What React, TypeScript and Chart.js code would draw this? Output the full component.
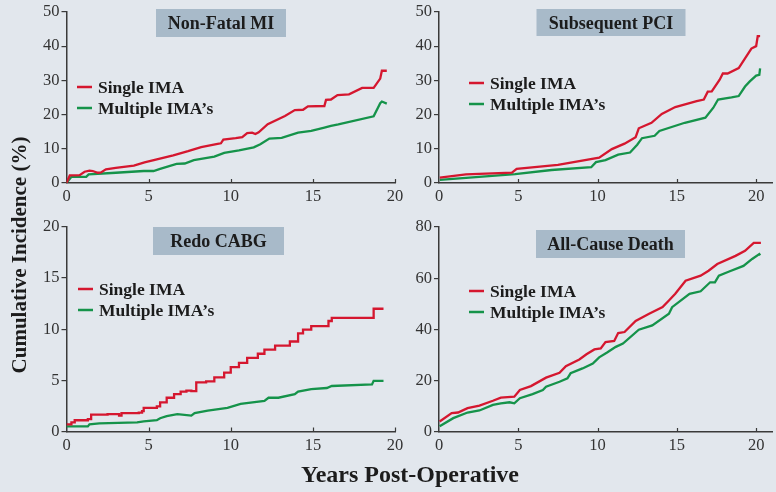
import React, { useEffect, useRef } from "react";
import { Chart, registerables } from "chart.js";

Chart.register(...registerables);

const FONT = "'Liberation Serif', 'DejaVu Serif', serif";

// ---------- Data ----------
const seriesLabels = ["Single IMA", "Multiple IMA\u2019s"];
const panelTitles = ["Non-Fatal MI", "Subsequent PCI", "Redo CABG", "All-Cause Death"];
const xTickValues = [0, 5, 10, 15, 20];

// Non-Fatal MI
const miSingleYears = [0, 0.2, 0.8, 1.1, 1.4, 1.6, 1.9, 2.1, 2.4, 3.0, 4.1, 4.75, 5.5, 6.5, 7.4, 8.2, 9.2, 9.4, 9.55, 10.3, 10.7, 11.0, 11.3, 11.5, 11.7, 12.25, 13.3, 13.9, 14.4, 14.7, 15.7, 15.8, 16.1, 16.5, 17.2, 18.0, 18.7, 19.1, 19.2, 19.5];
const miSingle = [0, 2.2, 2.3, 3.3, 3.6, 3.5, 3.0, 3.1, 4.0, 4.4, 5.1, 6.0, 6.9, 8.1, 9.3, 10.5, 11.4, 11.6, 12.7, 13.1, 13.4, 14.6, 14.7, 14.3, 14.8, 17.2, 19.6, 21.3, 21.4, 22.4, 22.5, 24.3, 24.4, 25.7, 25.9, 27.8, 27.8, 30.5, 32.8, 32.8];
const miMultipleYears = [0, 0.3, 1.2, 1.35, 3.0, 4.7, 5.3, 5.7, 6.7, 7.2, 7.75, 9.0, 9.6, 10.5, 11.4, 11.8, 12.35, 13.1, 14.1, 14.9, 15.7, 16.1, 16.55, 18.7, 19.1, 19.2, 19.5];
const miMultiple = [0, 1.8, 1.8, 2.5, 3.0, 3.5, 3.5, 4.1, 5.6, 5.7, 6.7, 7.7, 8.8, 9.5, 10.4, 11.3, 13.0, 13.2, 14.7, 15.2, 16.2, 16.7, 17.1, 19.5, 23.3, 23.8, 23.2];

// Subsequent PCI
const pciSingleYears = [0.05, 1.7, 4.6, 4.9, 7.5, 10.1, 10.9, 11.7, 12.4, 12.6, 13.4, 14.05, 14.9, 16.25, 16.7, 16.95, 17.2, 17.7, 17.9, 18.2, 18.9, 19.3, 19.7, 20.0, 20.1, 20.25];
const pciSingle = [1.6, 2.5, 3.0, 4.1, 5.3, 7.4, 9.9, 11.5, 13.4, 16.0, 17.6, 20.2, 22.2, 23.9, 24.4, 26.7, 26.8, 30.2, 32.0, 32.0, 33.6, 36.4, 39.3, 40.0, 42.9, 42.9];
const pciMultipleYears = [0.05, 4.8, 7.1, 9.6, 9.9, 10.5, 11.3, 12.05, 12.5, 12.8, 13.6, 13.9, 15.5, 16.8, 17.3, 17.6, 18.45, 18.9, 19.3, 19.6, 20.0, 20.2, 20.25];
const pciMultiple = [0.9, 2.6, 3.8, 4.6, 6.1, 6.7, 8.3, 8.9, 11.2, 13.1, 13.8, 15.2, 17.6, 19.1, 22.0, 24.4, 25.0, 25.4, 28.2, 29.7, 31.4, 31.6, 33.5];

// Redo CABG
const redoSingleYears = [0, 0.3, 0.5, 1.3, 1.5, 2.5, 3.2, 3.35, 4.4, 4.6, 4.7, 5.5, 5.7, 6.1, 6.55, 6.95, 7.3, 7.6, 7.9, 8.5, 9.0, 9.6, 10.0, 10.5, 11.0, 11.65, 12.05, 12.7, 13.6, 14.1, 14.4, 14.9, 15.95, 16.15, 18.7, 19.3];
const redoSingle = [0.7, 0.9, 1.1, 1.2, 1.65, 1.7, 1.55, 1.8, 1.85, 2.0, 2.3, 2.45, 2.85, 3.3, 3.65, 3.9, 4.0, 3.95, 4.8, 4.9, 5.3, 5.75, 6.3, 6.7, 7.2, 7.6, 8.0, 8.4, 8.8, 9.6, 9.95, 10.3, 10.8, 11.1, 12.0, 12.0];
const redoMultipleYears = [0, 1.3, 1.4, 2.0, 4.3, 4.7, 5.5, 5.7, 6.1, 6.75, 7.6, 7.8, 8.6, 9.8, 10.6, 12.05, 12.3, 12.9, 13.9, 14.1, 14.9, 15.85, 16.15, 18.6, 18.7, 19.3];
const redoMultiple = [0.5, 0.5, 0.7, 0.8, 0.9, 1.0, 1.1, 1.3, 1.5, 1.7, 1.55, 1.8, 2.05, 2.3, 2.7, 3.0, 3.3, 3.3, 3.65, 3.9, 4.15, 4.25, 4.45, 4.6, 4.95, 4.95];

// All-Cause Death
const deathSingleYears = [0.04, 0.8, 1.2, 1.8, 2.55, 3.4, 3.9, 4.75, 5.1, 5.8, 6.75, 7.6, 8.0, 8.85, 9.3, 9.8, 10.2, 10.5, 11.05, 11.3, 11.7, 12.4, 13.25, 14.1, 14.5, 14.9, 15.55, 16.5, 17.0, 17.55, 18.7, 19.3, 19.85, 20.3];
const deathSingle = [4.1, 7.4, 7.6, 9.3, 10.3, 12.2, 13.4, 13.8, 16.4, 17.9, 21.2, 23.1, 25.7, 28.3, 30.3, 32.2, 32.6, 35.1, 35.5, 38.6, 39.0, 43.3, 46.1, 48.7, 51.3, 53.9, 59.0, 61.0, 62.9, 65.5, 68.7, 70.7, 73.8, 73.8];
const deathMultipleYears = [0.04, 0.9, 1.8, 2.55, 3.4, 3.9, 4.45, 4.75, 5.1, 5.9, 6.55, 6.75, 7.6, 8.1, 8.3, 9.05, 9.7, 10.1, 10.6, 11.15, 11.6, 12.6, 13.45, 14.5, 14.7, 15.8, 16.5, 17.1, 17.4, 17.65, 18.3, 19.2, 19.75, 20.2, 20.25];
const deathMultiple = [2.2, 5.4, 7.6, 8.4, 10.6, 11.2, 11.6, 11.2, 13.2, 14.8, 16.4, 17.7, 19.6, 20.9, 22.9, 24.8, 26.7, 29.1, 31.0, 33.2, 34.5, 39.9, 41.6, 46.1, 48.7, 53.9, 54.9, 58.4, 58.4, 61.0, 62.6, 64.8, 67.5, 69.4, 68.9];

// ---------- Styles ----------
const RED = "#d5172f";
const GREEN = "#15934a";
const BG = "#e2e7ed";
const BOX = "#a8bac9";
const AXIS = "#3a3a3a";
const TEXT = "#1c1c1c";

type Panel = {
  title: string;
  canvas: { left: number; top: number; w: number; h: number };
  area: { l: number; t: number; r: number; b: number };
  xMax: number;
  yMax: number;
  yStep: number;
  box: { x: number; y: number; w: number; h: number };
  legend: { x: number; y: number };
  series: { xs: number[]; ys: number[]; stepped: boolean }[];
};

const PANELS: Panel[] = [
  {
    title: panelTitles[0],
    canvas: { left: 0, top: 0, w: 420, h: 215 },
    area: { l: 66.5, t: 10, r: 395, b: 183 },
    xMax: 20, yMax: 50, yStep: 10,
    box: { x: 156, y: 9, w: 130, h: 28 },
    legend: { x: 77, y: 87 },
    series: [
      { xs: miSingleYears, ys: miSingle, stepped: false },
      { xs: miMultipleYears, ys: miMultiple, stepped: false },
    ],
  },
  {
    title: panelTitles[1],
    canvas: { left: 390, top: 0, w: 386, h: 215 },
    area: { l: 439, t: 10, r: 772, b: 183 },
    xMax: 21, yMax: 50, yStep: 10,
    box: { x: 146.5, y: 9, w: 149, h: 27 },
    legend: { x: 79, y: 83 },
    series: [
      { xs: pciSingleYears, ys: pciSingle, stepped: false },
      { xs: pciMultipleYears, ys: pciMultiple, stepped: false },
    ],
  },
  {
    title: panelTitles[2],
    canvas: { left: 0, top: 215, w: 420, h: 250 },
    area: { l: 66.5, t: 225, r: 395, b: 431.5 },
    xMax: 20, yMax: 20, yStep: 5,
    box: { x: 153, y: 12, w: 131, h: 28 },
    legend: { x: 78, y: 74 },
    series: [
      { xs: redoSingleYears, ys: redoSingle, stepped: true },
      { xs: redoMultipleYears, ys: redoMultiple, stepped: false },
    ],
  },
  {
    title: panelTitles[3],
    canvas: { left: 390, top: 215, w: 386, h: 250 },
    area: { l: 439, t: 226, r: 772, b: 432 },
    xMax: 21, yMax: 80, yStep: 20,
    box: { x: 146, y: 15, w: 149, h: 28 },
    legend: { x: 79, y: 76 },
    series: [
      { xs: deathSingleYears, ys: deathSingle, stepped: false },
      { xs: deathMultipleYears, ys: deathMultiple, stepped: false },
    ],
  },
];

const decorPlugin = {
  id: "decor",
  afterDraw(chart: any, _args: any, opts: any) {
    const ctx = chart.ctx as CanvasRenderingContext2D;
    const xs = chart.scales.x;
    const yb = chart.chartArea.bottom;
    ctx.save();
    // inward x tick marks
    ctx.strokeStyle = AXIS;
    ctx.lineWidth = 1.2;
    for (const v of xTickValues) {
      if (v === 0) continue;
      const px = Math.round(xs.getPixelForValue(v)) + 0.5;
      ctx.beginPath();
      ctx.moveTo(px, yb);
      ctx.lineTo(px, yb - 4);
      ctx.stroke();
    }
    // title box
    const box = opts.box;
    ctx.fillStyle = BOX;
    ctx.fillRect(box.x, box.y, box.w, box.h);
    ctx.fillStyle = TEXT;
    ctx.font = `bold 18px ${FONT}`;
    ctx.textAlign = "center";
    ctx.textBaseline = "alphabetic";
    ctx.fillText(opts.title, box.x + box.w / 2, box.y + box.h / 2 + 6);
    // legend
    const lg = opts.legend;
    chart.data.datasets.forEach((ds: any, i: number) => {
      const y = lg.y + i * 21;
      ctx.strokeStyle = ds.borderColor;
      ctx.lineWidth = 2.5;
      ctx.beginPath();
      ctx.moveTo(lg.x, y);
      ctx.lineTo(lg.x + 15, y);
      ctx.stroke();
      ctx.fillStyle = TEXT;
      ctx.font = `bold 17.5px ${FONT}`;
      ctx.textAlign = "left";
      ctx.fillText(ds.label, lg.x + 21, y + 6);
    });
    ctx.restore();
  },
};

function PanelChart({ p }: { p: Panel }) {
  const ref = useRef<HTMLCanvasElement | null>(null);
  useEffect(() => {
    if (!ref.current) return;
    const colors = [RED, GREEN];
    const chart = new Chart(ref.current, {
      type: "line",
      data: {
        datasets: p.series.map((s, i) => ({
          label: seriesLabels[i],
          data: s.xs.map((x, j) => ({ x, y: s.ys[j] })),
          borderColor: colors[i],
          backgroundColor: colors[i],
          borderWidth: 2.3,
          pointRadius: 0,
          stepped: s.stepped ? "before" : false,
          tension: 0,
          fill: false,
        })) as any,
      },
      options: {
        responsive: false,
        animation: false,
        devicePixelRatio: 1,
        layout: {
          padding: {
            left: 0,
            bottom: 0,
            top: p.area.t - p.canvas.top,
            right: p.canvas.left + p.canvas.w - p.area.r,
          },
        },
        plugins: {
          legend: { display: false },
          title: { display: false },
          tooltip: { enabled: false },
          decor: { box: p.box, legend: p.legend, title: p.title },
        } as any,
        scales: {
          x: {
            type: "linear",
            min: 0,
            max: p.xMax,
            afterFit: (scale: any) => {
              scale.height = p.canvas.top + p.canvas.h - p.area.b;
            },
            afterBuildTicks: (scale: any) => {
              scale.ticks = xTickValues.map((v) => ({ value: v }));
            },
            grid: { display: false, drawTicks: false },
            border: { display: true, color: AXIS, width: 1.5 },
            ticks: {
              includeBounds: false,
              maxRotation: 0,
              autoSkip: false,
              padding: 4,
              color: "#333",
              font: { family: FONT, size: 16.5 },
            },
          },
          y: {
            type: "linear",
            min: 0,
            max: p.yMax,
            afterFit: (scale: any) => {
              scale.width = p.area.l - p.canvas.left;
            },
            grid: {
              display: true,
              drawOnChartArea: false,
              drawTicks: true,
              tickLength: 5,
              color: AXIS,
              lineWidth: 1.2,
            },
            border: { display: true, color: AXIS, width: 1.5 },
            ticks: {
              stepSize: p.yStep,
              padding: 2,
              color: "#333",
              font: { family: FONT, size: 16.5 },
            },
          },
        },
      },
      plugins: [decorPlugin],
    });
    return () => chart.destroy();
  }, [p]);
  return (
    <canvas
      ref={ref}
      width={p.canvas.w}
      height={p.canvas.h}
      style={{
        position: "absolute",
        left: p.canvas.left,
        top: p.canvas.top,
        width: p.canvas.w,
        height: p.canvas.h,
      }}
    />
  );
}

export default function App() {
  return (
    <div
      style={{
        position: "fixed",
        left: 0,
        top: 0,
        width: 776,
        height: 492,
        background: BG,
        overflow: "hidden",
      }}
    >
      {PANELS.map((p, i) => (
        <PanelChart key={i} p={p} />
      ))}
      <div
        style={{
          position: "absolute",
          left: 19 - 160,
          top: 255 - 12,
          width: 320,
          height: 24,
          lineHeight: "24px",
          textAlign: "center",
          fontFamily: FONT,
          fontWeight: "bold",
          fontSize: 21,
          color: TEXT,
          transform: "rotate(-90deg)",
          whiteSpace: "nowrap",
        }}
      >
        Cumulative Incidence (%)
      </div>
      <div
        style={{
          position: "absolute",
          left: 210,
          top: 462,
          width: 400,
          height: 24,
          lineHeight: "24px",
          textAlign: "center",
          fontFamily: FONT,
          fontWeight: "bold",
          fontSize: 24,
          color: TEXT,
          whiteSpace: "nowrap",
        }}
      >
        Years Post-Operative
      </div>
    </div>
  );
}
